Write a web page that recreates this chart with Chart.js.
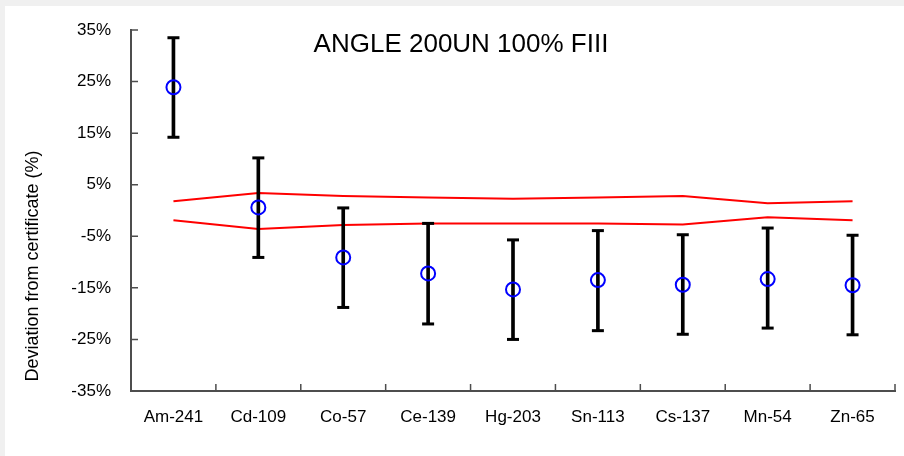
<!DOCTYPE html>
<html lang="en">
<head>
    <meta charset="UTF-8">
    <title>ANGLE 200UN 100% FIII</title>
    <script src="https://cdn.jsdelivr.net/npm/chart.js"></script>
    <style>
        body { margin: 0; background: #f0f0f0; }
        #panel { position: absolute; left: 5px; top: 6px; width: 899px; height: 450px; background: #fff; }
    </style>
</head>
<body>
    <div id="panel"><canvas id="deviation_chart"></canvas></div>
    <script>
        // nuclides
        var nuclides = ['Am-241', 'Cd-109', 'Co-57', 'Ce-139', 'Hg-203', 'Sn-113', 'Cs-137', 'Mn-54', 'Zn-65'];
        // deviation from certificate (%)
        var deviation = [23.9, 0.6, -9.1, -12.2, -15.3, -13.5, -14.4, -13.3, -14.5];
        var errLow = [14.2, -9.1, -18.8, -22.0, -25.0, -23.3, -24.0, -22.8, -24.1];
        var errHigh = [33.5, 10.2, 0.5, -2.5, -5.7, -3.9, -4.7, -3.4, -4.8];
        // acceptance limits (red lines)
        var upperLimit = [1.8, 3.4, 2.8, 2.5, 2.3, 2.5, 2.8, 1.4, 1.8];
        var lowerLimit = [-1.9, -3.6, -2.8, -2.5, -2.5, -2.5, -2.7, -1.3, -1.9];
        var yTicks = [-35, -25, -15, -5, 5, 15, 25, 35];

        var axisColor = '#4d4d4d';
        var font = 'Liberation Sans, Arial, sans-serif';

        // inward tick marks, title and y label
        var extras = {
            id: 'extras',
            afterDraw: function(chart) {
                var ctx = chart.ctx;
                var x = chart.scales.x, y = chart.scales.y;
                var area = chart.chartArea;
                ctx.save();
                ctx.strokeStyle = axisColor;
                ctx.lineWidth = 1.5;
                ctx.beginPath();
                yTicks.forEach(function(v) {
                    var py = y.getPixelForValue(v);
                    ctx.moveTo(area.left, py);
                    ctx.lineTo(area.left + 7, py);
                });
                var w = (area.right - area.left) / nuclides.length;
                for (var i = 1; i <= nuclides.length; i++) {
                    var px = area.left + i * w;
                    ctx.moveTo(px, area.bottom);
                    ctx.lineTo(px, area.bottom - 7);
                }
                ctx.stroke();

                ctx.fillStyle = '#000';
                ctx.font = '26px ' + font;
                ctx.textAlign = 'center';
                ctx.textBaseline = 'alphabetic';
                ctx.fillText('ANGLE 200UN 100% FIII', 456, 46);

                ctx.font = '18px ' + font;
                ctx.translate(28, 260);
                ctx.rotate(-Math.PI / 2);
                ctx.textBaseline = 'middle';
                ctx.fillText('Deviation from certificate (%)', 0, 0);
                ctx.restore();
            }
        };

        var ctx = document.getElementById('deviation_chart').getContext('2d');
        var chart = new Chart(ctx, {
            type: 'bar',
            data: {
                labels: nuclides,
                datasets: [{
                    type: 'line',
                    label: 'Deviation',
                    data: deviation,
                    showLine: false,
                    pointStyle: 'circle',
                    pointRadius: 7,
                    pointBorderWidth: 2,
                    pointBorderColor: '#0000ff',
                    pointBackgroundColor: 'rgba(0,0,0,0)',
                    order: 0
                }, {
                    type: 'line',
                    label: 'High',
                    data: errHigh,
                    showLine: false,
                    pointStyle: 'line',
                    pointRadius: 6,
                    pointBorderWidth: 3,
                    pointBorderColor: '#000',
                    order: 1
                }, {
                    type: 'line',
                    label: 'Low',
                    data: errLow,
                    showLine: false,
                    pointStyle: 'line',
                    pointRadius: 6,
                    pointBorderWidth: 3,
                    pointBorderColor: '#000',
                    order: 1
                }, {
                    label: 'Uncertainty',
                    data: errLow.map(function(v, i) { return [v, errHigh[i]]; }),
                    backgroundColor: '#000',
                    borderWidth: 0,
                    barThickness: 3,
                    order: 2
                }, {
                    type: 'line',
                    label: 'Upper',
                    data: upperLimit,
                    borderColor: '#ff0000',
                    borderWidth: 2,
                    pointRadius: 0,
                    tension: 0,
                    order: 3
                }, {
                    type: 'line',
                    label: 'Lower',
                    data: lowerLimit,
                    borderColor: '#ff0000',
                    borderWidth: 2,
                    pointRadius: 0,
                    tension: 0,
                    order: 3
                }]
            },
            options: {
                responsive: true,
                maintainAspectRatio: false,
                animation: false,
                layout: { padding: { top: 24, right: 4, left: 0, bottom: 0 } },
                plugins: {
                    legend: { display: false },
                    tooltip: { enabled: false }
                },
                scales: {
                    x: {
                        offset: true,
                        grid: { display: false, drawTicks: false },
                        border: { display: true, color: axisColor, width: 2 },
                        ticks: { color: '#000', padding: 16, maxRotation: 0, font: { family: font, size: 17 } },
                        afterFit: function(s) { s.height = 65; s.paddingLeft = 0; s.paddingRight = 0; }
                    },
                    y: {
                        min: -35,
                        max: 35,
                        grid: { display: false, drawTicks: false },
                        border: { display: true, color: axisColor, width: 2 },
                        ticks: {
                            stepSize: 10,
                            color: '#000',
                            padding: 20,
                            font: { family: font, size: 17 },
                            callback: function(v) { return v + '%'; }
                        },
                        afterBuildTicks: function(s) { s.ticks = yTicks.map(function(v) { return { value: v }; }); },
                        afterFit: function(s) { s.width = 126; s.paddingTop = 0; s.paddingBottom = 0; }
                    }
                }
            },
            plugins: [extras]
        });
    </script>
</body>
</html>
